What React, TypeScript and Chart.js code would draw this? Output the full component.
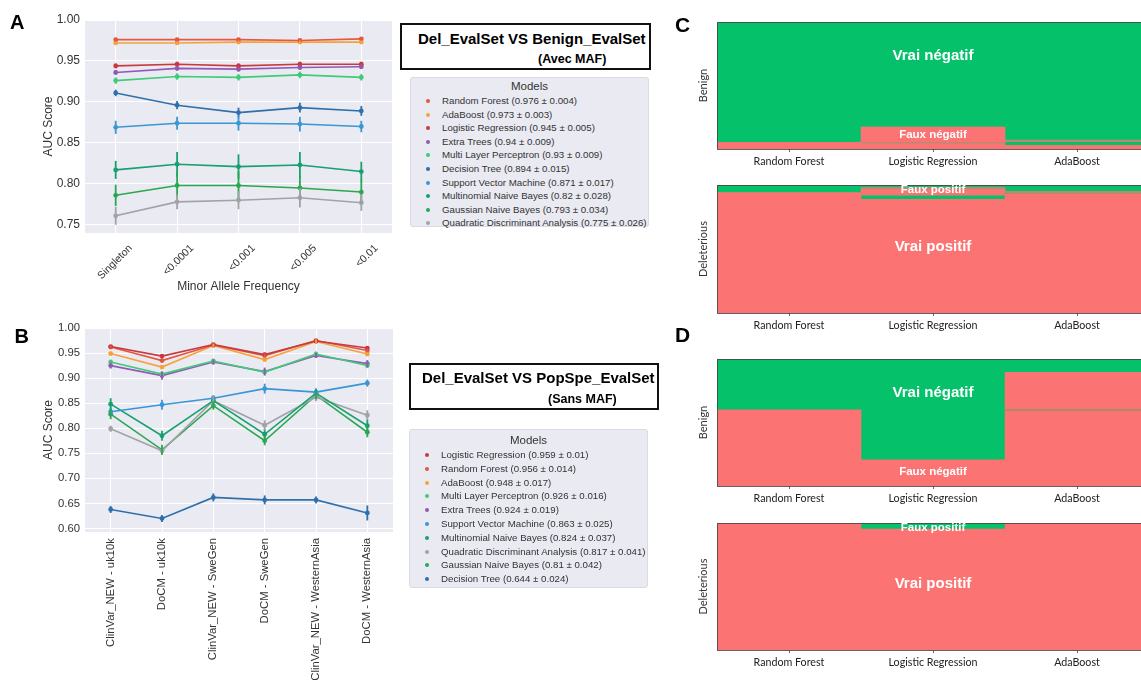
import React, { useEffect, useRef } from "react";
import { Chart, registerables } from "chart.js";

Chart.register(...registerables);

const SANS = "'Liberation Sans', Arial, Helvetica, sans-serif";
const LATO = "Lato, 'Open Sans', sans-serif";

// ---------------- Panel A : Del_EvalSet VS Benign_EvalSet (Avec MAF) ----------------
const mafCategories = ["Singleton", "<0.0001", "<0.001", "<0.005", "<0.01"];
const aucTicksA = [0.75, 0.8, 0.85, 0.9, 0.95, 1.0];
const modelsA = [
  "Random Forest",
  "AdaBoost",
  "Logistic Regression",
  "Extra Trees",
  "Multi Layer Perceptron",
  "Decision Tree",
  "Support Vector Machine",
  "Multinomial Naive Bayes",
  "Gaussian Naive Bayes",
  "Quadratic Discriminant Analysis",
];
const meansA = [0.976, 0.973, 0.945, 0.94, 0.93, 0.894, 0.871, 0.82, 0.793, 0.775];
const sdsA = [0.004, 0.003, 0.005, 0.009, 0.009, 0.015, 0.017, 0.028, 0.034, 0.026];

const aRandomForest = [0.976, 0.976, 0.976, 0.975, 0.977];
const aAdaBoost = [0.972, 0.972, 0.973, 0.973, 0.973];
const aLogistic = [0.944, 0.946, 0.944, 0.946, 0.946];
const aExtraTrees = [0.936, 0.941, 0.94, 0.942, 0.943];
const aMLP = [0.926, 0.931, 0.93, 0.933, 0.93];
const aDecisionTree = [0.911, 0.896, 0.887, 0.893, 0.889];
const aSVM = [0.869, 0.874, 0.874, 0.873, 0.87];
const aMultinomialNB = [0.817, 0.824, 0.821, 0.823, 0.815];
const aGaussianNB = [0.786, 0.798, 0.798, 0.795, 0.79];
const aQDA = [0.761, 0.778, 0.78, 0.783, 0.777];

const aRandomForestErr = [0.002, 0.002, 0.002, 0.002, 0.002];
const aAdaBoostErr = [0.002, 0.002, 0.002, 0.002, 0.002];
const aLogisticErr = [0.003, 0.003, 0.003, 0.003, 0.003];
const aExtraTreesErr = [0.003, 0.003, 0.003, 0.003, 0.003];
const aMLPErr = [0.004, 0.004, 0.004, 0.004, 0.004];
const aDecisionTreeErr = [0.004, 0.005, 0.006, 0.006, 0.006];
const aSVMErr = [0.008, 0.008, 0.009, 0.009, 0.007];
const aMultinomialNBErr = [0.011, 0.015, 0.015, 0.016, 0.012];
const aGaussianNBErr = [0.013, 0.016, 0.017, 0.015, 0.014];
const aQDAErr = [0.011, 0.009, 0.011, 0.012, 0.01];

const valuesA = [aRandomForest, aAdaBoost, aLogistic, aExtraTrees, aMLP, aDecisionTree, aSVM, aMultinomialNB, aGaussianNB, aQDA];
const errorsA = [aRandomForestErr, aAdaBoostErr, aLogisticErr, aExtraTreesErr, aMLPErr, aDecisionTreeErr, aSVMErr, aMultinomialNBErr, aGaussianNBErr, aQDAErr];

// ---------------- Panel B : Del_EvalSet VS PopSpe_EvalSet (Sans MAF) ----------------
const popCategories = [
  "ClinVar_NEW - uk10k",
  "DoCM - uk10k",
  "ClinVar_NEW - SweGen",
  "DoCM - SweGen",
  "ClinVar_NEW - WesternAsia",
  "DoCM - WesternAsia",
];
const aucTicksB = [0.6, 0.65, 0.7, 0.75, 0.8, 0.85, 0.9, 0.95, 1.0];
const modelsB = [
  "Logistic Regression",
  "Random Forest",
  "AdaBoost",
  "Multi Layer Perceptron",
  "Extra Trees",
  "Support Vector Machine",
  "Multinomial Naive Bayes",
  "Quadratic Discriminant Analysis",
  "Gaussian Naive Bayes",
  "Decision Tree",
];
const meansB = [0.959, 0.956, 0.948, 0.926, 0.924, 0.863, 0.824, 0.817, 0.81, 0.644];
const sdsB = [0.01, 0.014, 0.017, 0.016, 0.019, 0.025, 0.037, 0.041, 0.042, 0.024];

const bLogistic = [0.963, 0.944, 0.967, 0.947, 0.974, 0.96];
const bRandomForest = [0.962, 0.935, 0.966, 0.945, 0.975, 0.955];
const bAdaBoost = [0.949, 0.922, 0.965, 0.937, 0.973, 0.948];
const bMLP = [0.932, 0.908, 0.934, 0.912, 0.948, 0.925];
const bExtraTrees = [0.925, 0.905, 0.932, 0.913, 0.945, 0.929];
const bSVM = [0.833, 0.847, 0.86, 0.879, 0.872, 0.89];
const bMultinomialNB = [0.848, 0.785, 0.855, 0.788, 0.87, 0.805];
const bQDA = [0.799, 0.755, 0.855, 0.806, 0.862, 0.826];
const bGaussianNB = [0.828, 0.757, 0.845, 0.775, 0.866, 0.792];
const bDecisionTree = [0.638, 0.62, 0.662, 0.657, 0.657, 0.631];

const bLogisticErr = [0.003, 0.004, 0.003, 0.004, 0.003, 0.004];
const bRandomForestErr = [0.003, 0.004, 0.003, 0.004, 0.003, 0.004];
const bAdaBoostErr = [0.004, 0.004, 0.004, 0.004, 0.004, 0.004];
const bMLPErr = [0.005, 0.005, 0.005, 0.005, 0.005, 0.005];
const bExtraTreesErr = [0.006, 0.008, 0.005, 0.008, 0.005, 0.007];
const bSVMErr = [0.008, 0.01, 0.006, 0.01, 0.008, 0.007];
const bMultinomialNBErr = [0.012, 0.01, 0.009, 0.01, 0.008, 0.012];
const bQDAErr = [0.006, 0.008, 0.009, 0.01, 0.008, 0.01];
const bGaussianNBErr = [0.01, 0.01, 0.008, 0.009, 0.008, 0.01];
const bDecisionTreeErr = [0.007, 0.007, 0.008, 0.009, 0.007, 0.015];

const valuesB = [bLogistic, bRandomForest, bAdaBoost, bMLP, bExtraTrees, bSVM, bMultinomialNB, bQDA, bGaussianNB, bDecisionTree];
const errorsB = [bLogisticErr, bRandomForestErr, bAdaBoostErr, bMLPErr, bExtraTreesErr, bSVMErr, bMultinomialNBErr, bQDAErr, bGaussianNBErr, bDecisionTreeErr];

// ---------------- Panels C & D : mosaic (proportions, bottom -> top) ----------------
const mosaicModels = ["Random Forest", "Logistic Regression", "AdaBoost"];

const cBenignFauxNeg = [0.052, 0.04, 0.026];
const cBenignTrait = [0, 0.013, 0];
const cBenignFauxNeg2 = [0, 0.12, 0];
const cBenignVraiNegBas = [0, 0, 0.027];
const cBenignTrait2 = [0, 0, 0.018];
const cBenignVraiNeg = [0.948, 0.827, 0.929];

const cDelVraiPos = [0.94, 0.888, 0.93];
const cDelFauxPosBas = [0, 0.026, 0];
const cDelTrait = [0, 0.01, 0.018];
const cDelVraiPos2 = [0, 0.042, 0];
const cDelTrait2 = [0, 0.016, 0];
const cDelFauxPos = [0.06, 0.018, 0.052];

const dBenignFauxNeg = [0.598, 0.205, 0.59];
const dBenignTrait = [0, 0, 0.012];
const dBenignFauxNeg2 = [0, 0, 0.294];
const dBenignVraiNeg = [0.402, 0.795, 0.104];

const dDelVraiPos = [1.0, 0.952, 1.0];
const dDelFauxPos = [0, 0.048, 0];

// ---------------- styles ----------------
const modelColors: Record<string, string> = {
  "Random Forest": "#e5573f",
  AdaBoost: "#f5a23c",
  "Logistic Regression": "#c83a40",
  "Extra Trees": "#9459b4",
  "Multi Layer Perceptron": "#3fcb78",
  "Decision Tree": "#2f70ab",
  "Support Vector Machine": "#3a96d4",
  "Multinomial Naive Bayes": "#17a06f",
  "Gaussian Naive Bayes": "#2aa84f",
  "Quadratic Discriminant Analysis": "#a2a2a8",
};
const RED = "#fb7473";
const GREEN = "#04c16a";
const TRAIT = "#b98a72";
const TRAIT_D = "#8c9468";

// ---------------- plugins ----------------
const plotBgPlugin = {
  id: "plotBg",
  beforeDraw(chart: any, _a: any, opts: any) {
    const { ctx, chartArea } = chart;
    if (!chartArea) return;
    ctx.save();
    ctx.fillStyle = opts.color || "#eaeaf2";
    ctx.fillRect(chartArea.left, chartArea.top, chartArea.width, chartArea.height);
    ctx.restore();
  },
};

const errorBarPlugin = {
  id: "errorBars",
  afterDatasetsDraw(chart: any) {
    const ctx = chart.ctx;
    const y = chart.scales.y;
    chart.data.datasets.forEach((ds: any, i: number) => {
      const errs = ds.errors;
      if (!errs) return;
      const meta = chart.getDatasetMeta(i);
      ctx.save();
      ctx.strokeStyle = ds.borderColor;
      ctx.lineWidth = 1.8;
      meta.data.forEach((pt: any, j: number) => {
        const v = ds.data[j];
        const e = errs[j];
        ctx.beginPath();
        ctx.moveTo(pt.x, y.getPixelForValue(v - e));
        ctx.lineTo(pt.x, y.getPixelForValue(v + e));
        ctx.stroke();
      });
      ctx.restore();
    });
  },
};

const frameTextPlugin = {
  id: "mosaicText",
  afterDatasetsDraw(chart: any, _a: any, opts: any) {
    const { ctx, chartArea } = chart;
    const xs = chart.scales.x;
    const ys = chart.scales.y;
    ctx.save();
    ctx.strokeStyle = "rgba(70,70,70,0.85)";
    ctx.lineWidth = 1;
    ctx.strokeRect(chartArea.left + 0.5, chartArea.top + 0.5, chartArea.width - 1, chartArea.height);
    ctx.fillStyle = "#ffffff";
    ctx.textAlign = "center";
    ctx.textBaseline = "middle";
    (opts.items || []).forEach((it: any) => {
      ctx.font = `bold ${it.size}px ${SANS}`;
      ctx.fillText(it.text, xs.getPixelForValue(it.cat), ys.getPixelForValue(it.at));
    });
    ctx.restore();
  },
};

// ---------------- components ----------------
function ChartBox({ left, top, width, height, config }: any) {
  const ref = useRef<HTMLCanvasElement | null>(null);
  useEffect(() => {
    const c = new Chart(ref.current as HTMLCanvasElement, config);
    return () => c.destroy();
  }, []);
  return (
    <div style={{ position: "absolute", left, top, width, height }}>
      <canvas ref={ref} />
    </div>
  );
}

function lineConfig(p: any) {
  return {
    type: "line",
    data: {
      labels: p.categories,
      datasets: p.models.map((m: string, i: number) => ({
        label: m,
        data: p.values[i],
        errors: p.errors[i],
        borderColor: modelColors[m],
        backgroundColor: modelColors[m],
        borderWidth: 1.6,
        pointRadius: 2.4,
        pointBorderWidth: 0,
        pointHoverRadius: 0,
        tension: 0,
      })),
    },
    options: {
      animation: false,
      responsive: true,
      maintainAspectRatio: false,
      events: [],
      layout: { padding: { top: p.padTop, right: p.padRight, left: 0, bottom: 0 } },
      plugins: { legend: { display: false }, tooltip: { enabled: false }, plotBg: { color: "#eaeaf2" } },
      scales: {
        x: {
          type: "category",
          offset: true,
          grid: { color: "#ffffff", lineWidth: 1, drawTicks: false },
          border: { display: false },
          ticks: {
            font: { family: SANS, size: p.xTickSize },
            color: "#333",
            minRotation: p.rotation,
            maxRotation: p.rotation,
            autoSkip: false,
            padding: p.xTickPad,
            labelOffset: p.xLabelOffset,
          },
          title: p.xTitle
            ? { display: true, text: p.xTitle, font: { family: SANS, size: 12 }, color: "#333", padding: { top: 0, bottom: p.xTitlePad } }
            : { display: false },
          afterFit: (s: any) => {
            s.height = p.xAxisHeight;
          },
        },
        y: {
          min: p.yMin,
          max: p.yMax,
          grid: { color: "#ffffff", lineWidth: 1, drawTicks: false },
          border: { display: false },
          ticks: {
            font: { family: SANS, size: p.tickSize },
            color: "#333",
            padding: 5,
            callback: (v: any) => Number(v).toFixed(2),
          },
          afterBuildTicks: (s: any) => {
            s.ticks = p.yTicks.map((v: number) => ({ value: v }));
          },
          title: { display: true, text: "AUC Score", font: { family: SANS, size: 12 }, color: "#333", padding: { top: 41, bottom: 0 } },
          afterFit: (s: any) => {
            s.width = 85;
          },
        },
      },
    },
    plugins: [plotBgPlugin, errorBarPlugin],
  };
}

function mosaicConfig(p: any) {
  return {
    type: "bar",
    data: {
      labels: mosaicModels,
      datasets: p.segments.map((s: any) => ({
        label: s.name,
        data: s.values,
        backgroundColor: s.color,
        borderWidth: 0,
        barPercentage: 1,
        categoryPercentage: 1,
        stack: "s",
      })),
    },
    options: {
      animation: false,
      responsive: true,
      maintainAspectRatio: false,
      events: [],
      layout: { padding: { top: p.padTop, right: 0, left: 0, bottom: 0 } },
      plugins: { legend: { display: false }, tooltip: { enabled: false }, mosaicText: { items: p.labels } },
      scales: {
        x: {
          stacked: true,
          grid: { display: true, drawOnChartArea: false, drawTicks: true, tickLength: 3, color: "#666", offset: false },
          border: { display: false },
          ticks: { font: { family: LATO, size: 10.7 }, color: "#222", padding: 3 },
          afterFit: (s: any) => {
            s.height = p.xAxisHeight;
          },
        },
        y: {
          stacked: true,
          min: 0,
          max: 1,
          ticks: { display: false },
          grid: { display: false },
          border: { display: false },
          title: { display: true, text: p.yTitle, font: { family: LATO, size: 11 }, color: "#333", padding: { top: 7, bottom: 0 } },
          afterFit: (s: any) => {
            s.width = 27;
          },
        },
      },
    },
    plugins: [frameTextPlugin],
  };
}

function Legend({ left, top, width, height, titleY, firstY, step, models, means, sds }: any) {
  return (
    <div
      style={{
        position: "absolute",
        left,
        top,
        width,
        height,
        boxSizing: "border-box",
        background: "#eaeaf2",
        border: "1px solid #dadae2",
        borderRadius: 3,
        fontFamily: SANS,
        color: "#333",
      }}
    >
      <div style={{ position: "absolute", left: 0, width: "100%", top: titleY - 8, height: 16, lineHeight: "16px", textAlign: "center", fontSize: 11.5 }}>
        Models
      </div>
      {models.map((m: string, i: number) => (
        <div key={m} style={{ position: "absolute", left: 0, top: firstY + i * step - 7, height: 14, width: "100%" }}>
          <div
            style={{
              position: "absolute",
              left: 15,
              top: 5,
              width: 4,
              height: 4,
              borderRadius: 2,
              background: modelColors[m],
            }}
          />
          <div style={{ position: "absolute", left: 31, top: 0, lineHeight: "14px", fontSize: 9.7, whiteSpace: "nowrap" }}>
            {`${m} (${means[i]} ± ${sds[i]})`}
          </div>
        </div>
      ))}
    </div>
  );
}

function Letter({ text, left, top, size }: any) {
  return (
    <div style={{ position: "absolute", left, top, fontFamily: SANS, fontWeight: "bold", fontSize: size, lineHeight: 1, color: "#000" }}>
      {text}
    </div>
  );
}

function TitleBox({ left, top, width, height, line1, line2, l1x, l1y, l2x, l2y }: any) {
  return (
    <>
      <div style={{ position: "absolute", left, top, width, height, boxSizing: "border-box", border: "2px solid #111" }} />
      <div style={{ position: "absolute", left: l1x, top: l1y - 9, lineHeight: "18px", fontFamily: SANS, fontWeight: "bold", fontSize: 15, color: "#000", whiteSpace: "nowrap" }}>
        {line1}
      </div>
      <div style={{ position: "absolute", left: l2x, top: l2y - 8, lineHeight: "16px", fontFamily: SANS, fontWeight: "bold", fontSize: 12.5, color: "#000", whiteSpace: "nowrap" }}>
        {line2}
      </div>
    </>
  );
}

export default function App() {
  const cfgA = lineConfig({
    categories: mafCategories,
    models: modelsA,
    values: valuesA,
    errors: errorsA,
    yMin: 0.74,
    yMax: 1.0,
    yTicks: aucTicksA,
    padTop: 20,
    padRight: 8,
    xAxisHeight: 67,
    rotation: 45,
    tickSize: 12,
    xTickSize: 10.6,
    xTickPad: 9,
    xLabelOffset: 15,
    xTitle: "Minor Allele Frequency",
    xTitlePad: 6,
  });
  const cfgB = lineConfig({
    categories: popCategories,
    models: modelsB,
    values: valuesB,
    errors: errorsB,
    yMin: 0.593,
    yMax: 1.0,
    yTicks: aucTicksB,
    padTop: 18,
    padRight: 17,
    xAxisHeight: 148,
    rotation: 90,
    tickSize: 11.3,
    xTickSize: 11.3,
    xTickPad: 6,
    xLabelOffset: 0,
  });

  const benignLabels = [
    { text: "Vrai négatif", cat: 1, at: 0.73, size: 15 },
    { text: "Faux négatif", cat: 1, at: 0.11, size: 11.5 },
  ];
  const delLabels = [
    { text: "Faux positif", cat: 1, at: 0.965, size: 11.5 },
    { text: "Vrai positif", cat: 1, at: 0.52, size: 15 },
  ];

  const cfgCtop = mosaicConfig({
    padTop: 22,
    xAxisHeight: 26,
    yTitle: "Benign",
    labels: benignLabels,
    segments: [
      { name: "Faux négatif", values: cBenignFauxNeg, color: RED },
      { name: "trait", values: cBenignTrait, color: TRAIT },
      { name: "Faux négatif (suite)", values: cBenignFauxNeg2, color: RED },
      { name: "Vrai négatif (bas)", values: cBenignVraiNegBas, color: GREEN },
      { name: "trait 2", values: cBenignTrait2, color: TRAIT },
      { name: "Vrai négatif", values: cBenignVraiNeg, color: GREEN },
    ],
  });
  const cfgCbot = mosaicConfig({
    padTop: 10,
    xAxisHeight: 37,
    yTitle: "Deleterious",
    labels: delLabels,
    segments: [
      { name: "Vrai positif", values: cDelVraiPos, color: RED },
      { name: "Faux positif (bas)", values: cDelFauxPosBas, color: GREEN },
      { name: "trait", values: cDelTrait, color: TRAIT },
      { name: "Vrai positif (suite)", values: cDelVraiPos2, color: RED },
      { name: "trait 2", values: cDelTrait2, color: TRAIT },
      { name: "Faux positif", values: cDelFauxPos, color: GREEN },
    ],
  });
  const cfgDtop = mosaicConfig({
    padTop: 14,
    xAxisHeight: 29,
    yTitle: "Benign",
    labels: benignLabels,
    segments: [
      { name: "Faux négatif", values: dBenignFauxNeg, color: RED },
      { name: "trait", values: dBenignTrait, color: TRAIT_D },
      { name: "Faux négatif (suite)", values: dBenignFauxNeg2, color: RED },
      { name: "Vrai négatif", values: dBenignVraiNeg, color: GREEN },
    ],
  });
  const cfgDbot = mosaicConfig({
    padTop: 8,
    xAxisHeight: 30,
    yTitle: "Deleterious",
    labels: delLabels,
    segments: [
      { name: "Vrai positif", values: dDelVraiPos, color: RED },
      { name: "Faux positif", values: dDelFauxPos, color: GREEN },
    ],
  });

  return (
    <div style={{ position: "fixed", left: 0, top: 0, width: 1141, height: 680, overflow: "hidden", background: "#fff" }}>
      <ChartBox left={0} top={0} width={400} height={300} config={cfgA} />
      <ChartBox left={0} top={310} width={410} height={370} config={cfgB} />

      <TitleBox left={400} top={23} width={251} height={47} line1="Del_EvalSet VS Benign_EvalSet" line2="(Avec MAF)" l1x={418} l1y={38.5} l2x={538} l2y={59} />
      <TitleBox left={409} top={363} width={250} height={47} line1="Del_EvalSet VS PopSpe_EvalSet" line2="(Sans MAF)" l1x={422} l1y={378} l2x={548} l2y={399} />

      <Legend left={410} top={77} width={239} height={150} titleY={8} firstY={23} step={13.6} models={modelsA} means={meansA} sds={sdsA} />
      <Legend left={409} top={429} width={239} height={159} titleY={10} firstY={25} step={13.8} models={modelsB} means={meansB} sds={sdsB} />

      <ChartBox left={690} top={0} width={459} height={175} config={cfgCtop} />
      <ChartBox left={690} top={175} width={459} height={175} config={cfgCbot} />
      <ChartBox left={690} top={345} width={459} height={170} config={cfgDtop} />
      <ChartBox left={690} top={515} width={459} height={165} config={cfgDbot} />

      <Letter text="A" left={10} top={12.4} size={20} />
      <Letter text="B" left={14.5} top={326.4} size={20} />
      <Letter text="C" left={675} top={14.2} size={21} />
      <Letter text="D" left={675} top={324.2} size={21} />
    </div>
  );
}
